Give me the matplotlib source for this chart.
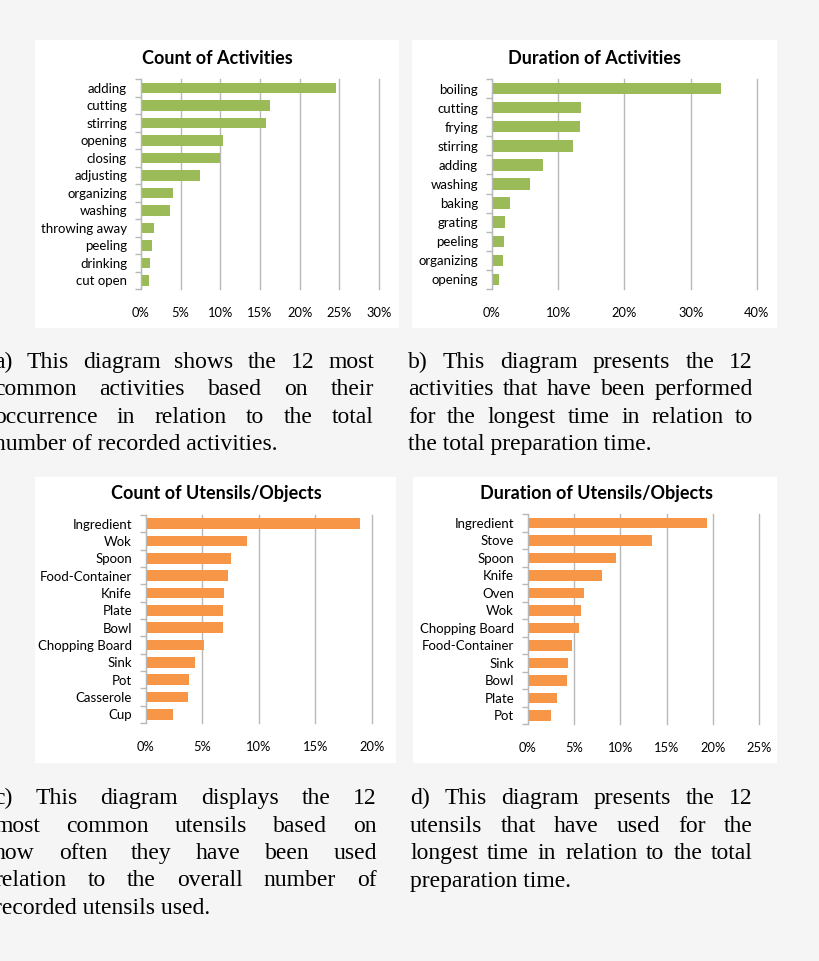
import matplotlib
matplotlib.use("Agg")
from matplotlib import pyplot as plt
from matplotlib.patches import Rectangle
from matplotlib.ticker import FuncFormatter, MultipleLocator

W, H = 820, 961

# --- data (percent of total) ---
act_count_labels = ["adding", "cutting", "stirring", "opening", "closing", "adjusting",
                    "organizing", "washing", "throwing away", "peeling", "drinking", "cut open"]
act_count_values = [24.6, 16.3, 15.7, 10.3, 10.0, 7.4, 4.0, 3.7, 1.7, 1.4, 1.1, 1.0]

act_dur_labels = ["boiling", "cutting", "frying", "stirring", "adding", "washing",
                  "baking", "grating", "peeling", "organizing", "opening"]
act_dur_values = [34.5, 13.4, 13.3, 12.3, 7.7, 5.8, 2.7, 1.95, 1.85, 1.6, 1.05]

obj_count_labels = ["Ingredient", "Wok", "Spoon", "Food-Container", "Knife", "Plate", "Bowl",
                    "Chopping Board", "Sink", "Pot", "Casserole", "Cup"]
obj_count_values = [18.9, 8.95, 7.55, 7.25, 6.9, 6.85, 6.8, 5.1, 4.35, 3.8, 3.75, 2.35]

obj_dur_labels = ["Ingredient", "Stove", "Spoon", "Knife", "Oven", "Wok", "Chopping Board",
                  "Food-Container", "Sink", "Bowl", "Plate", "Pot"]
obj_dur_values = [19.4, 13.4, 9.5, 8.0, 6.1, 5.7, 5.5, 4.8, 4.3, 4.2, 3.1, 2.5]

caption_a = ["a) This diagram shows the 12 most",
             "common activities based on their",
             "occurrence in relation to the total",
             "number of recorded activities."]
caption_b = ["b) This diagram presents the 12",
             "activities that have been performed",
             "for the longest time in relation to",
             "the total preparation time."]
caption_c = ["c) This diagram displays the 12",
             "most common utensils based on",
             "how often they have been used",
             "relation to the overall number of",
             "recorded utensils used."]
caption_d = ["d) This diagram presents the 12",
             "utensils that have used for the",
             "longest time in relation to the total",
             "preparation time."]

GREEN = "#9bbb59"
ORANGE = "#f79646"
GRID = "#b8b8b8"
SANS = "Lato"
SERIF = "Liberation Serif"

fig = plt.figure(figsize=(W / 100, H / 100), dpi=100)
fig.patch.set_facecolor("#f5f5f5")


def fx(x):
    return x / W


def fy(y):
    return 1 - y / H


def panel_box(x0, y0, x1, y1):
    fig.patches.append(Rectangle((fx(x0), fy(y1)), fx(x1 - x0), (y1 - y0) / H,
                                 transform=fig.transFigure, facecolor="white",
                                 edgecolor="none", zorder=-1))


def bar_chart(box, title, labels, values, color, xmax, step, title_x, title_y):
    left, top, right, bottom = box
    ax = fig.add_axes([fx(left), fy(bottom), fx(right - left), (bottom - top) / H])
    ax.set_facecolor("white")
    n = len(labels)
    pos = list(range(n))
    ax.barh(pos, values, height=0.6, color=color, zorder=3)
    ax.set_ylim(n - 0.5, -0.5)
    ax.set_xlim(0, xmax)
    ax.xaxis.set_major_locator(MultipleLocator(step))
    ax.xaxis.set_major_formatter(FuncFormatter(lambda v, p: "%d%%" % round(v)))
    ax.set_yticks(pos)
    ax.set_yticklabels(labels, fontsize=9.5, family=SANS)
    ax.set_yticks([p - 0.5 for p in range(n + 1)], minor=True)
    ax.tick_params(axis="y", which="major", length=0, pad=10)
    ax.tick_params(axis="y", which="minor", length=4, color=GRID, width=1)
    ax.tick_params(axis="x", length=0, pad=13, labelsize=9.3)
    for t in ax.get_xticklabels():
        t.set_family(SANS)
    ax.grid(axis="x", color=GRID, linewidth=1, zorder=0)
    for g in ax.get_xgridlines():
        g.set_clip_on(False)
    for s in ["top", "right", "bottom"]:
        ax.spines[s].set_visible(False)
    ax.spines["left"].set_color(GRID)
    ax.spines["left"].set_zorder(4)
    fig.text(fx(title_x), fy(title_y), title, ha="center", va="center",
             fontsize=13, fontweight="bold", family=SANS)
    return ax


panel_box(35, 40, 399, 328)
panel_box(412, 40, 777, 328)
panel_box(35, 477, 396, 763)
panel_box(413, 477, 777, 763)

ax_a = bar_chart((141, 79, 379, 289), "Count of Activities", act_count_labels,
                 act_count_values, GREEN, 30, 5, 217, 58)
ax_b = bar_chart((492, 79, 757, 289), "Duration of Activities", act_dur_labels,
                 act_dur_values, GREEN, 40, 10, 595, 58)
ax_c = bar_chart((146, 515, 372, 723), "Count of Utensils/Objects", obj_count_labels,
                 obj_count_values, ORANGE, 20, 5, 216, 494)
ax_d = bar_chart((528, 514, 759, 724), "Duration of Utensils/Objects", obj_dur_labels,
                 obj_dur_values, ORANGE, 25, 5, 597, 494)

renderer = fig.canvas.get_renderer()


def paragraph(lines, x0, x1, y0, dy, size=17):
    for i, line in enumerate(lines):
        y = y0 + i * dy
        if i == len(lines) - 1:
            fig.text(fx(x0), fy(y), line, fontsize=size, family=SERIF, va="baseline")
            continue
        words = line.split()
        texts = [fig.text(0, 0, w, fontsize=size, family=SERIF, va="baseline") for w in words]
        widths = [t.get_window_extent(renderer).width for t in texts]
        gap = (x1 - x0 - sum(widths)) / (len(words) - 1)
        x = x0
        for t, w in zip(texts, widths):
            t.set_position((fx(x), fy(y)))
            x += w + gap


# the left captions run past the left edge of the picture, as in the source
paragraph(caption_a, -6, 374, 368, 27.3)
paragraph(caption_b, 408, 753, 368, 27.3)
paragraph(caption_c, -6, 377, 804, 27.5)
paragraph(caption_d, 410, 753, 804, 27.5)

fig.savefig("out.png", dpi=100, facecolor=fig.get_facecolor())
